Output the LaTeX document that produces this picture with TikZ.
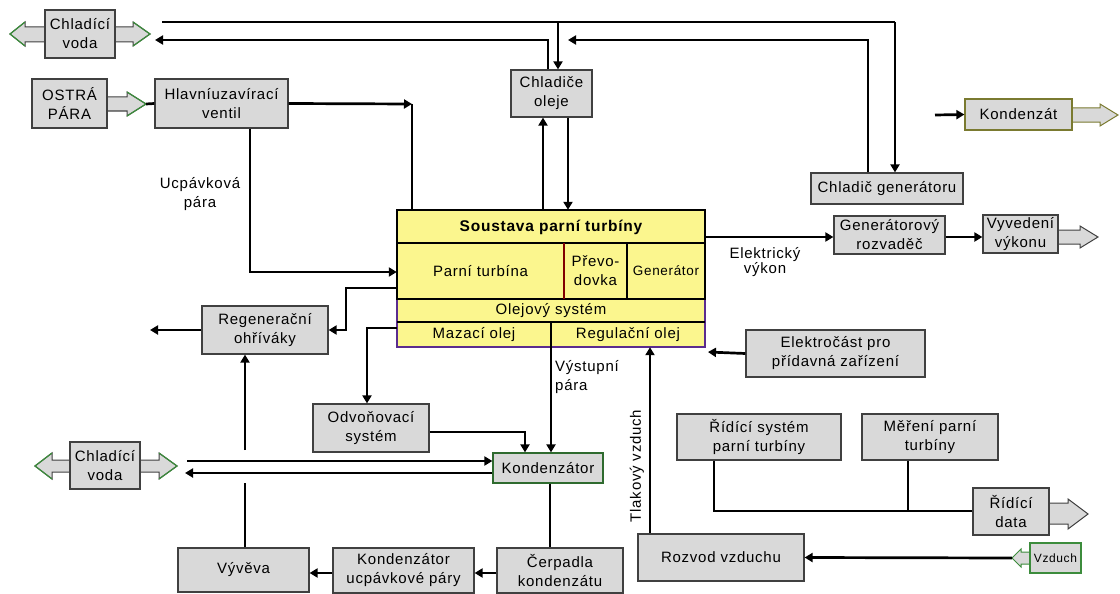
\documentclass[tikz,border=0pt]{standalone}
\usepackage{fontspec}
\setmainfont{Liberation Sans}[LetterSpace=5]
\usetikzlibrary{arrows.meta}
\definecolor{boxfill}{HTML}{D9D9D9}
\definecolor{boxline}{HTML}{404040}
\definecolor{tipgreen}{HTML}{3C8C3C}
\definecolor{turbfill}{HTML}{FBF68E}
\definecolor{oilline}{HTML}{5B2C8F}
\definecolor{olive}{HTML}{7A7A30}
\definecolor{kgreen}{HTML}{2F6B2F}
\begin{document}
\begin{tikzpicture}[x=1pt,y=-1pt,
  box/.style={draw=boxline, fill=boxfill, line width=1.2pt, inner sep=0pt, align=center,
              font=\fontsize{15}{19}\selectfont},
  lbl/.style={inner sep=0pt, align=center, font=\fontsize{15}{19}\selectfont},
  conn/.style={line width=2.7pt, -{Triangle[length=8pt,width=9pt]}},
  plain/.style={line width=2.7pt},
  barrow/.style={fill=boxfill, draw=boxline, line width=1pt},
  gtip/.style={draw=tipgreen, line width=1.2pt}]
\useasboundingbox (0,0) rectangle (1120,594);

% ---------- block arrows (drawn under boxes)
\filldraw[barrow] (46,27) -- (25,27) -- (25,22) -- (10,34) -- (25,46) -- (25,42) -- (46,42) -- cycle;
\draw[gtip] (25,22) -- (10,34) -- (25,46);
\filldraw[barrow] (114,27) -- (133,27) -- (133,22) -- (150,34) -- (133,46) -- (133,42) -- (114,42) -- cycle;
\draw[gtip] (133,22) -- (150,34) -- (133,46);

\filldraw[barrow] (106,97) -- (127,97) -- (127,92) -- (146,104) -- (127,116) -- (127,111) -- (106,111) -- cycle;
\draw[gtip] (127,92) -- (146,104) -- (127,116);

\filldraw[barrow,draw=olive] (1071,108) -- (1100,108) -- (1100,104) -- (1118,115) -- (1100,126) -- (1100,122) -- (1071,122) -- cycle;

\filldraw[barrow] (1057,230) -- (1080,230) -- (1080,226) -- (1098,237) -- (1080,248) -- (1080,244) -- (1057,244) -- cycle;

\filldraw[barrow] (71,460) -- (52,460) -- (52,453) -- (35,466) -- (52,479) -- (52,472) -- (71,472) -- cycle;
\draw[gtip] (52,453) -- (35,466) -- (52,479);
\filldraw[barrow] (139,460) -- (159,460) -- (159,453) -- (177,466) -- (159,479) -- (159,472) -- (139,472) -- cycle;
\draw[gtip] (159,453) -- (177,466) -- (159,479);

\filldraw[barrow] (1048,503) -- (1068,503) -- (1068,499) -- (1088,514) -- (1068,529) -- (1068,524) -- (1048,524) -- cycle;

\filldraw[barrow,draw=tipgreen] (1031,552) -- (1021,552) -- (1021,549) -- (1012,558) -- (1021,567) -- (1021,564) -- (1031,564) -- cycle;

% ---------- boxes
\node[box, minimum width=70pt, minimum height=48pt] (chvT) at (80,34) {Chladící\\voda};
\node[box, minimum width=75pt, minimum height=49pt] (osp) at (69.5,103.5) {OSTRÁ\\PÁRA};
\node[box, minimum width=133pt, minimum height=49pt] (hv) at (221.5,103.5) {Hlavníuzavírací\\ventil};
\node[box, minimum width=81pt, minimum height=47pt] (cho) at (551.5,93.5) {Chladiče\\oleje};
\node[box, minimum width=152pt, minimum height=31pt] (chg) at (887,188.5) {Chladič generátoru};
\node[box, draw=olive, minimum width=107pt, minimum height=31pt] (kout) at (1018.5,114.5) {Kondenzát};
\node[box, minimum width=111pt, minimum height=38pt] (gr) at (889.5,235) {Generátorový\\rozvaděč};
\node[box, minimum width=75pt, minimum height=38pt] (vv) at (1020.5,234) {Vyvedení\\výkonu};
\node[box, minimum width=126pt, minimum height=48pt] (reg) at (265,330) {Regenerační\\ohříváky};
\node[box, minimum width=116pt, minimum height=48pt] (odv) at (371,428) {Odvoňovací\\systém};
\node[box, draw=kgreen, minimum width=110pt, minimum height=30pt] (kdz) at (548,468) {Kondenzátor};
\node[box, minimum width=70pt, minimum height=47pt] (chvB) at (105,465.5) {Chladící\\voda};
\node[box, minimum width=131pt, minimum height=44pt] (vyv) at (243.5,570) {Vývěva};
\node[box, minimum width=141pt, minimum height=45pt] (kup) at (403.5,570.5) {Kondenzátor\\ucpávkové páry};
\node[box, minimum width=126pt, minimum height=45pt] (cer) at (560,570.5) {Čerpadla\\kondenzátu};
\node[box, minimum width=166pt, minimum height=47pt] (rv) at (721,557.5) {Rozvod vzduchu};
\node[box, draw=tipgreen, minimum width=51pt, minimum height=30pt, font=\fontsize{12}{14}\selectfont] (vz) at (1055.5,558) {Vzduch};
\node[box, minimum width=179pt, minimum height=47pt] (el) at (835.5,353.5) {Elektročást pro\\přídavná zařízení};
\node[box, minimum width=164pt, minimum height=46pt] (rs) at (759,437) {Řídící systém\\parní turbíny};
\node[box, minimum width=136pt, minimum height=46pt] (mr) at (930,437) {Měření parní\\turbíny};
\node[box, minimum width=76pt, minimum height=47pt] (rd) at (1011,511.5) {Řídící\\data};

% ---------- turbine system
\node[fill=turbfill, draw=none, minimum width=308pt, minimum height=137pt, inner sep=0pt] (turb) at (551,278.5) {};
\draw[line width=1.2pt, oilline] (397,299) rectangle (705,347);
\draw[line width=1.2pt] (397,322) -- (705,322);
\draw[line width=1.2pt] (551,322) -- (551,347);
\draw[line width=1.7pt] (397,299) -- (397,210) -- (705,210) -- (705,299) -- cycle;
\draw[line width=1.2pt] (397,243) -- (705,243);
\draw[line width=1.2pt, red!50!black] (564,243) -- (564,299);
\draw[line width=1.2pt] (627,243) -- (627,299);
\node[lbl, font=\fontsize{15.5}{18}\bfseries] (tt) at (551,227) {Soustava parní turbíny};
\node[lbl] (tpt) at (480.5,271) {Parní turbína};
\node[lbl] (tpr) at (595.5,271) {Převo-\\dovka};
\node[lbl, font=\fontsize{13.5}{16}\selectfont] (tgen) at (666,271) {Generátor};
\node[lbl] (tos) at (551,310.5) {Olejový systém};
\node[lbl] (tmo) at (474,334.5) {Mazací olej};
\node[lbl] (tro) at (628,334.5) {Regulační olej};

% ---------- labels
\node[lbl] (lu) at (200,194) {Ucpávková\\pára};
\node[lbl, align=left, anchor=north west] (lv) at (555,360) {Výstupní\\pára};
\node[lbl, font=\fontsize{15}{14}\selectfont] (le) at (765,262) {Elektrický\\výkon};
\node[lbl, rotate=90] (lt) at (637,466) {Tlakový vzduch};

% ---------- coordinates
\coordinate (t1) at (162,22);
\coordinate (t2) at (895,22);
\coordinate (t3) at (558,22);
\coordinate (w1) at (548,40);
\coordinate (w2) at (155,40);
\coordinate (w3) at (868,40);
\coordinate (w4) at (568,40);
\coordinate (hvc) at (412,104);
\coordinate (ostip) at (146,104);
\coordinate (ktip) at (935,115);
\coordinate (regout) at (150,330);
\coordinate (vtop) at (245,483);
\coordinate (vbot) at (245,450);
\coordinate (cw1) at (187,461);
\coordinate (cw2) at (185,473);
\coordinate (vztip) at (1012,558);

% ---------- connectors
\draw[plain] (t1) -- (t2);
\draw[conn] (t2) -- (chg.north -| t2);
\draw[conn] (t3) -- (cho.north -| t3);
\draw[conn] (cho.north -| w1) -- (w1) -- (w2);
\draw[conn] (chg.north -| w3) -- (w3) -- (w4);
\draw[plain] (ostip) -- (hv.west);
\draw[conn] (hv.east) -- (hvc);
\draw[plain] (hvc) -- (turb.north -| hvc);
\draw[conn] (hv.south -| 250,0) -- (250,272) -- (turb.west |- 0,272);
\draw[conn] (turb.west |- 0,288) -- (346,288) -- (346,330) -- (reg.east);
\draw[conn] (reg.west) -- (regout);
\draw[conn] (vbot) -- (reg.south -| vbot);
\draw[plain] (vyv.north -| vtop) -- (vtop);
\draw[conn] (turb.west |- 0,328) -- (367,328) -- (odv.north -| 367,0);
\draw[conn] (odv.east |- 0,432) -- (525,432) -- (kdz.north -| 525,0);
\draw[conn] (turb.south -| 551,0) -- (kdz.north -| 551,0);
\draw[conn] (cw1) -- (kdz.west |- cw1);
\draw[conn] (kdz.west |- cw2) -- (cw2);
\draw[plain] (kdz.south -| 550,0) -- (cer.north -| 550,0);
\draw[conn] (cer.west |- 0,573) -- (kup.east |- 0,573);
\draw[conn] (kup.west |- 0,573) -- (vyv.east |- 0,573);
\draw[conn] (turb.north -| 543,0) -- (cho.south -| 543,0);
\draw[conn] (cho.south -| 568,0) -- (turb.north -| 568,0);
\draw[conn] (turb.east |- 0,237) -- (gr.west |- 0,237);
\draw[conn] (gr.east |- 0,237) -- (vv.west |- 0,237);
\draw[conn] (ktip) -- (kout.west);
\draw[conn] (el.west) -- (708,352);
\draw[conn] (rv.north -| 650,0) -- (turb.south -| 650,0);
\draw[conn] (vztip) -- (rv.east);
\draw[plain] (rs.south -| 714,0) -- (714,511) -- (rd.west |- 0,511);
\draw[plain] (mr.south -| 908,0) -- (908,511);
\end{tikzpicture}
\end{document}
